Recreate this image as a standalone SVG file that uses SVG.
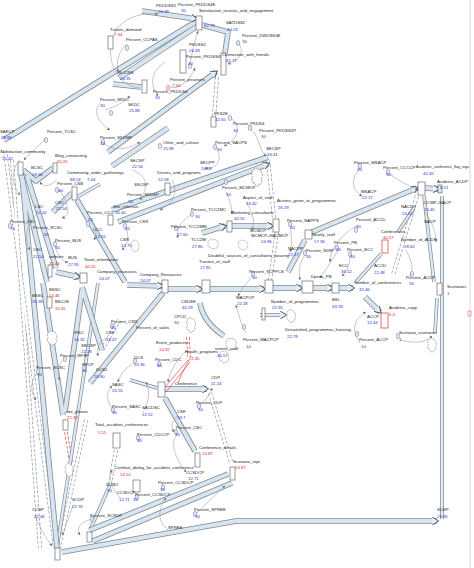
<svg xmlns="http://www.w3.org/2000/svg" xmlns:xlink="http://www.w3.org/1999/xlink" width="474" height="568" viewBox="0 0 474 568">
<style>
text{font-family:"Liberation Sans Narrow","Liberation Sans",Arial,sans-serif;font-size:4.3px}
.n{fill:#222}
.v{fill:#2430d0}
.r{fill:#e02020}
.po{fill:none;stroke:#7b8a98;stroke-width:5.6;stroke-linejoin:round}
.pi{fill:none;stroke:#d8e5ef;stroke-width:4}
.qo{fill:none;stroke:#7b8a98;stroke-width:3.6}
.qi{fill:none;stroke:#e2ebf3;stroke-width:2.2}
.do{fill:none;stroke:#8c98a4;stroke-width:4;stroke-dasharray:3 1.6}
.di{fill:none;stroke:#fff;stroke-width:2.6}
.rd{fill:none;stroke:#e04040;stroke-width:3.4;stroke-dasharray:3 1.6}
.ln{fill:none;stroke:#8a8f96;stroke-width:0.5;marker-end:url(#la)}
.red{fill:none;stroke:#e03030;stroke-width:0.6}
.st{fill:#fff;stroke:#555;stroke-width:0.6}
.sr{fill:#fff;stroke:#e03030;stroke-width:0.7}
.ax{fill:#dfe7f3;stroke:#6b7a96;stroke-width:0.5}
.cl{fill:#fff;stroke:#666;stroke-width:0.5;stroke-dasharray:1.2 0.6}
</style>
<defs>
<marker id="ah" viewBox="0 0 10 10" refX="6" refY="5" markerWidth="8" markerHeight="8" markerUnits="userSpaceOnUse" orient="auto"><path d="M0,0 L8,5 L0,10" fill="#e6eef5" stroke="#4a5560" stroke-width="1.2"/></marker>
<marker id="la" viewBox="0 0 10 10" refX="9" refY="5" markerWidth="3" markerHeight="3" markerUnits="userSpaceOnUse" orient="auto"><path d="M0,0 L10,5 L0,10 z" fill="#777"/></marker>
<path id="cloud" d="M-3,3 a1.8,1.8 0 0 1 -1,-3.2 a2,2 0 0 1 1,-3.6 a2.2,2.2 0 0 1 3.6,-0.4 a2.2,2.2 0 0 1 3,1.4 a2,2 0 0 1 0.4,3.6 a2,2 0 0 1 -2,3.2 a2.2,2.2 0 0 1 -3.6,0.2 a1.8,1.8 0 0 1 -1.4,-1.2 z"/>
<path id="p1" d="M4,140 L197,21"/><path id="p2" d="M119,78 L196,27"/><path id="p3" d="M142,11 L196,19"/>
<path id="p4" d="M202,25 L228,32 L225,53"/><path id="p5" d="M108,152 L216,72"/><path id="p6" d="M113,84 L141,87"/>
<path id="p7" d="M112,166 L168,128"/><path id="p8" d="M112,210 L268,157"/><path id="p9" d="M118,222 L268,164"/>
<path id="p10" d="M23,170 L36,181 L53,168"/><path id="p11" d="M53,212 L72,193"/><path id="p12" d="M77,197 L100,184"/>
<path id="p13" d="M77,200 L125,282"/><path id="p14" d="M21,175 L47,282"/><path id="p15" d="M27,176 L56,268"/>
<path id="p16" d="M56,272 L79,277"/><path id="p17" d="M127,285 L162,286"/><path id="p18" d="M168,289 L201,289"/>
<path id="p19" d="M210,289 L264,289"/><path id="p20" d="M273,288 L301,288"/><path id="p21" d="M313,288 L332,288"/>
<path id="p22" d="M339,288 L353,288"/><path id="p23" d="M202,233 L225,226"/><path id="p24" d="M232,226 L272,226"/>
<path id="p25" d="M288,272 L305,240"/><path id="p26" d="M312,232 L417,188"/><path id="p27" d="M425,188 L438,189"/>
<path id="p28" d="M424,196 L434,282"/><path id="p29" d="M62,552 L236,521 L437,521"/><path id="p30" d="M442,196 L442,519"/>
<path id="p31" d="M43,283 L63,415"/><path id="p32" d="M82,290 L65,412"/><path id="p33" d="M82,287 L102,350"/>
<path id="p34" d="M90,383 L163,293"/><path id="p35" d="M130,380 L157,388"/><path id="p36" d="M165,389 L207,389"/>
<path id="p37" d="M165,398 L195,451"/><path id="p38" d="M200,303 Q203,322 224,336"/><path id="p39" d="M90,530 L228,474"/>
<path id="p40" d="M93,541 L232,483"/><path id="p41" d="M110,485 L90,530"/><path id="p42" d="M22,176 L57,548"/>
<path id="p43" d="M365,297 L380,312"/><path id="p44" d="M437,298 L435,333"/><path id="p45" d="M260,315 L285,315"/>
<path id="p47" d="M356,282 L381,254"/><path id="p48" d="M398,232 L414,208"/><path id="p49" d="M98,283 L57,548"/>
<path id="d1" d="M5,150 L55,548"/><path id="d2" d="M217,77 L214,117"/><path id="d3" d="M268,160 L274,218"/>
<path id="d4" d="M277,232 L270,280"/><path id="d5" d="M86,420 L59,548"/><path id="d6" d="M210,393 L231,462"/>
<path id="d7" d="M116,450 L110,483"/><path id="d9" d="M102,350 L119,320"/><path id="d10" d="M417,196 L393,275"/>
<path id="d11" d="M12,160 L40,548"/>
</defs>
<rect width="474" height="568" fill="#fff"/>
<line x1="470" y1="0" x2="470" y2="568" stroke="#d4d8dc" stroke-width="1"/>
<g id="connectors">
<g class="do"><use href="#d1"/><use href="#d2"/><use href="#d3"/><use href="#d4"/><use href="#d5"/><use href="#d6"/><use href="#d7"/><use href="#d9"/><use href="#d10"/><use href="#d11"/></g>
<g class="di"><use href="#d1"/><use href="#d2"/><use href="#d3"/><use href="#d4"/><use href="#d5"/><use href="#d6"/><use href="#d7"/><use href="#d9"/><use href="#d10"/><use href="#d11"/></g>
<path class="rd" d="M66,432 L71,462"/><path d="M66,432 L71,462" fill="none" stroke="#fff" stroke-width="2"/>
<path class="rd" d="M188,337 L189,357"/><path d="M188,337 L189,357" fill="none" stroke="#fff" stroke-width="2"/>
<g class="qo"><use href="#p28"/><use href="#p30"/><use href="#p41"/><use href="#p44"/><use href="#p45"/><use href="#p47"/><use href="#p48"/><use href="#p49"/><use href="#p12"/><use href="#p35"/></g>
<g class="qi"><use href="#p28"/><use href="#p30"/><use href="#p41"/><use href="#p44"/><use href="#p45" style="marker-end:url(#ah)"/><use href="#p47"/><use href="#p48"/><use href="#p49"/><use href="#p12"/><use href="#p35"/></g>
<g class="po"><use href="#p1"/><use href="#p2"/><use href="#p3"/><use href="#p4"/><use href="#p5"/><use href="#p6"/><use href="#p7"/><use href="#p8"/><use href="#p9"/><use href="#p10"/><use href="#p11"/><use href="#p13"/><use href="#p14"/><use href="#p15"/><use href="#p16"/><use href="#p17"/><use href="#p18"/><use href="#p19"/><use href="#p20"/><use href="#p21"/><use href="#p22"/><use href="#p23"/><use href="#p24"/><use href="#p25"/><use href="#p26"/><use href="#p27"/><use href="#p29"/><use href="#p31"/><use href="#p32"/><use href="#p33"/><use href="#p34"/><use href="#p36"/><use href="#p37"/><use href="#p38"/><use href="#p39"/><use href="#p40"/><use href="#p42"/><use href="#p43"/></g>
<g class="pi"><use href="#p1"/><use href="#p2"/><use href="#p3" style="marker-end:url(#ah)"/><use href="#p4"/><use href="#p5" style="marker-end:url(#ah)"/><use href="#p6"/><use href="#p7"/><use href="#p8"/><use href="#p9" style="marker-end:url(#ah)"/><use href="#p10"/><use href="#p11"/><use href="#p13"/><use href="#p14"/><use href="#p15"/><use href="#p16" style="marker-end:url(#ah)"/><use href="#p17" style="marker-end:url(#ah)"/><use href="#p18" style="marker-end:url(#ah)"/><use href="#p19" style="marker-end:url(#ah)"/><use href="#p20" style="marker-end:url(#ah)"/><use href="#p21" style="marker-end:url(#ah)"/><use href="#p22" style="marker-end:url(#ah)"/><use href="#p23" style="marker-end:url(#ah)"/><use href="#p24" style="marker-end:url(#ah)"/><use href="#p25"/><use href="#p26" style="marker-end:url(#ah)"/><use href="#p27" style="marker-end:url(#ah)"/><use href="#p29" style="marker-end:url(#ah)"/><use href="#p31"/><use href="#p32"/><use href="#p33"/><use href="#p34"/><use href="#p36" style="marker-end:url(#ah)"/><use href="#p37"/><use href="#p38"/><use href="#p39"/><use href="#p40"/><use href="#p42"/><use href="#p43" style="marker-end:url(#ah)"/></g>
<g class="ln">
<path d="M140,88 C118,86 106,62 112,40 C116,22 135,12 158,14"/>
<path d="M127,44 C118,52 116,62 118,72"/>
<path d="M165,62 C150,72 150,86 158,96"/>
<path d="M190,64 Q194,42 198,31"/>
<path d="M237,42 C246,50 240,60 228,64"/>
<path d="M168,86 C178,92 190,80 195,68"/>
<path d="M231,118 C242,126 238,140 224,146"/>
<path d="M250,128 C262,140 258,150 266,156"/>
<path d="M100,103 C92,112 100,124 110,130"/>
<path d="M103,142 C112,152 128,150 140,142"/>
<path d="M46,138 C40,146 30,152 24,160"/>
<path d="M20,160 C10,170 12,185 20,195"/>
<path d="M57,180 C50,186 44,188 40,182"/>
<path d="M60,190 C68,205 72,215 62,218"/>
<path d="M36,215 C26,225 24,240 30,250"/>
<path d="M88,218 C96,226 98,232 94,240"/>
<path d="M55,246 C58,256 62,262 68,262"/>
<path d="M125,226 C130,236 128,244 122,250"/>
<path d="M132,170 C146,175 150,185 140,200"/>
<path d="M172,180 C180,195 170,205 160,210"/>
<path d="M215,146 C225,160 215,170 205,168"/>
<path d="M192,214 C180,222 176,230 178,238"/>
<path d="M226,192 C230,200 232,208 232,214"/>
<path d="M246,202 C252,212 256,220 252,230"/>
<path d="M290,225 C292,240 292,246 290,252"/>
<path d="M253,274 C248,282 242,288 238,296"/>
<path d="M360,168 C350,180 352,190 362,196"/>
<path d="M390,174 C400,182 410,186 418,190"/>
<path d="M358,225 C340,235 330,250 330,262"/>
<path d="M338,250 C332,260 326,270 320,278"/>
<path d="M350,256 C350,266 346,272 342,276"/>
<path d="M360,343 C350,330 355,318 366,312"/>
<path d="M305,255 C300,262 298,270 300,280"/>
<path d="M246,333 C240,322 238,312 236,305"/>
<path d="M187,350 C176,360 170,372 168,382"/>
<path d="M199,406 C206,400 210,394 212,388"/>
<path d="M178,415 C172,420 170,426 174,432"/>
<path d="M176,436 C170,444 176,460 186,472"/>
<path d="M195,515 C205,505 215,495 225,486"/>
<path d="M168,530 C155,520 160,505 166,498"/>
<path d="M143,412 C150,400 150,390 146,382"/>
<path d="M113,410 C106,400 106,392 112,386"/>
<path d="M135,362 C125,368 120,375 118,382"/>
<path d="M107,338 C100,340 96,348 98,356"/>
<path d="M65,358 C58,365 56,372 60,380"/>
<path d="M38,372 C30,380 30,392 36,400"/>
<path d="M120,498 C112,488 108,480 112,470"/>
<path d="M92,519 C80,522 76,528 80,535"/>
<path d="M35,515 C40,528 46,538 52,546"/>
<path d="M73,505 C70,515 66,525 62,535"/>
<path d="M400,340 C420,345 428,340 432,336"/>
<path d="M406,250 C412,262 414,270 410,276"/>
<path d="M425,212 C432,222 436,232 436,242"/>
<path d="M105,110 C120,105 126,100 130,96"/>
</g>
<g>
<path class="red" d="M165,387 L188,360"/><path class="red" d="M166,392 L190,362"/><path class="red" d="M178,384 C182,372 186,366 189,360"/>
</g>
</g>
<g id="clouds" class="cl">
<use href="#cloud" transform="translate(52,338) scale(1,1.5)"/>
<use href="#cloud" transform="translate(69,470) scale(0.8,1.4)"/>
<use href="#cloud" transform="translate(191,325) scale(0.9,1.5)"/>
<use href="#cloud" transform="translate(231,344) scale(1.1,1.2)"/>
<use href="#cloud" transform="translate(291,316) scale(0.9,1.3)"/>
<use href="#cloud" transform="translate(432,345) scale(0.9,1.4)"/>
<use href="#cloud" transform="translate(257,177) scale(1.1,1.8)"/>
<use href="#cloud" transform="translate(243,245) scale(1,1)"/>
<use href="#cloud" transform="translate(135,246) scale(0.8,1.2)"/>
<use href="#cloud" transform="translate(213,244) scale(1.1,1)"/>
<use href="#cloud" transform="translate(224,357) scale(1,1.2)"/>
</g>
<g id="aux" class="ax">
<ellipse cx="127" cy="48" rx="1.7" ry="2.7"/><ellipse cx="190" cy="66" rx="1.7" ry="2.7"/><ellipse cx="238" cy="43" rx="1.7" ry="2.7"/>
<ellipse cx="168" cy="88" rx="1.7" ry="2.7" style="fill:#f7dede;stroke:#d06060"/><ellipse cx="230" cy="118" rx="1.7" ry="2.7"/><ellipse cx="250" cy="128" rx="1.7" ry="2.7"/>
<ellipse cx="111" cy="113" rx="1.7" ry="2.7"/><ellipse cx="103" cy="142" rx="1.7" ry="2.7"/><ellipse cx="46" cy="140" rx="1.7" ry="2.7"/>
<ellipse cx="57" cy="190" rx="1.7" ry="2.7"/><ellipse cx="88" cy="224" rx="1.7" ry="2.7"/><ellipse cx="55" cy="244" rx="1.7" ry="2.7"/>
<ellipse cx="125" cy="226" rx="1.7" ry="2.7"/><ellipse cx="160" cy="146" rx="1.7" ry="2.7"/><ellipse cx="215" cy="147" rx="1.7" ry="2.7"/>
<ellipse cx="226" cy="182" rx="1.7" ry="2.7"/><ellipse cx="192" cy="214" rx="1.7" ry="2.7"/><ellipse cx="176" cy="228" rx="1.7" ry="2.7"/>
<ellipse cx="290" cy="224" rx="1.7" ry="2.7"/><ellipse cx="253" cy="274" rx="1.7" ry="2.7"/><ellipse cx="360" cy="166" rx="1.7" ry="2.7"/>
<ellipse cx="388" cy="172" rx="1.7" ry="2.7"/><ellipse cx="356" cy="230" rx="1.7" ry="2.7"/><ellipse cx="337" cy="248" rx="1.7" ry="2.7"/>
<ellipse cx="350" cy="254" rx="1.7" ry="2.7"/><ellipse cx="305" cy="253" rx="1.7" ry="2.7"/><ellipse cx="412" cy="274" rx="1.7" ry="2.7"/>
<ellipse cx="357" cy="334" rx="1.7" ry="2.7"/><ellipse cx="244" cy="327" rx="1.7" ry="2.7"/><ellipse cx="159" cy="364" rx="1.7" ry="2.7"/>
<ellipse cx="199" cy="406" rx="1.7" ry="2.7"/><ellipse cx="176" cy="432" rx="1.7" ry="2.7"/><ellipse cx="195" cy="514" rx="1.7" ry="2.7"/>
<ellipse cx="163" cy="487" rx="1.7" ry="2.7"/><ellipse cx="113" cy="410" rx="1.7" ry="2.7"/><ellipse cx="135" cy="361" rx="1.7" ry="2.7"/>
<ellipse cx="65" cy="359" rx="1.7" ry="2.7"/><ellipse cx="38" cy="372" rx="1.7" ry="2.7"/><ellipse cx="84" cy="368" rx="1.7" ry="2.7"/>
<ellipse cx="137" cy="497" rx="1.7" ry="2.7"/><ellipse cx="92" cy="519" rx="1.7" ry="2.7"/><ellipse cx="138" cy="438" rx="1.7" ry="2.7"/>
<ellipse cx="398" cy="336" rx="1.7" ry="2.7"/><ellipse cx="112" cy="326" rx="1.7" ry="2.7"/><ellipse cx="10" cy="226" rx="1.7" ry="2.7"/>
</g>
<g id="n_sat_tourists"><rect class="st" x="196" y="16" width="6" height="14"/><text class="n" x="199" y="12">Satisfaction_tourists_and_engagement</text><text class="v" x="204" y="27">62.79</text></g>
<g id="n_pkddss2"><text class="n" x="156" y="7">PKDDSS2</text><text class="v" x="158" y="13">26.49</text><text class="n" x="178" y="6">Percent_PKDDS4E</text><text class="v" x="181" y="12">30</text></g>
<g id="n_tickets"><rect class="st" x="108" y="36" width="5" height="13"/><text class="n" x="110" y="31">Tickets_demand</text><text class="r" x="114" y="36">7.34</text><text class="n" x="126" y="41">Percent_CCPAS</text></g>
<g id="n_satdss2"><text class="n" x="226" y="24">SATDSS2</text><text class="v" x="227" y="31">44.23</text><text class="n" x="242" y="37">Percent_DWDSS4E</text><text class="v" x="242" y="43">30</text></g>
<g id="n_pkdss2"><rect class="st" x="180" y="50" width="6" height="23"/><text class="n" x="189" y="46">PKDSS2</text><text class="v" x="189" y="52">26.49</text><text class="n" x="186" y="58">Percent_PKDSS4E</text><text class="v" x="188" y="65">30</text></g>
<g id="n_connection"><rect class="st" x="221" y="53" width="5" height="22"/><text class="n" x="222" y="56">Connection_with_friends</text><text class="v" x="226" y="62">41.77</text></g>
<g id="n_prisoners"><text class="n" x="170" y="81">Percent_prisoners</text><text class="r" x="172" y="87">7.34</text><text class="n" x="153" y="93">Percent_PKDDS4</text><text class="v" x="155" y="99">30</text></g>
<g id="n_blics"><rect class="st" x="142" y="80" width="5" height="13"/><text class="n" x="118" y="74">BLICNS</text><text class="v" x="120" y="80">24.35</text></g>
<g id="n_pks2e"><rect class="st" x="211" y="117" width="5" height="10"/><text class="n" x="214" y="115">PKS2E</text><text class="v" x="215" y="121">42.65</text><text class="n" x="233" y="125">Percent_PKDS4</text><text class="v" x="233" y="132">30</text><text class="n" x="259" y="132">Percent_PKDSS2P</text><text class="v" x="261" y="138">30</text></g>
<g id="n_skdc"><text class="n" x="100" y="101">Percent_SKDC</text><text class="v" x="100" y="107">30</text><text class="n" x="128" y="106">SKDC</text><text class="v" x="129" y="112">25.88</text><text class="n" x="100" y="139">Percent_SKDMF</text><text class="v" x="100" y="145">10</text></g>
<g id="n_saecp"><text class="n" x="0" y="133">SAECP</text><text class="v" x="1" y="139">28.86</text><text class="n" x="47" y="133">Percent_TCSC</text></g>
<g id="n_sat_comm"><rect class="st" x="18" y="162" width="5" height="13"/><text class="n" x="0" y="153">Satisfaction_community</text><text class="v" x="2" y="160">55.42</text></g>
<g id="n_bcsc"><text class="n" x="31" y="169">BCSC</text><text class="v" x="32" y="176">28.66</text></g>
<g id="n_blog"><rect class="st" x="53" y="163" width="4" height="10"/><text class="n" x="55" y="157">Blog_connecting</text><text class="r" x="57" y="163">65.25</text></g>
<g id="n_comm_wider"><rect class="st" x="72" y="187" width="5" height="13"/><text class="n" x="67" y="174">Community_wider_gatherings</text><text class="v" x="70" y="181">88.54</text><text class="v" x="87" y="181">7.44</text><text class="n" x="57" y="185">Percent_CSB</text><text class="v" x="58" y="192">40</text></g>
<g id="n_csc"><text class="n" x="55" y="204">CSC</text><text class="v" x="56" y="210">22.54</text><text class="n" x="35" y="208">LSC</text><text class="v" x="36" y="214">21.42</text></g>
<g id="n_lsc"><text class="n" x="10" y="223">Percent_LSC</text><text class="v" x="10" y="230">70</text><text class="n" x="33" y="229">Percent_RCSC</text><text class="v" x="44" y="236">80</text></g>
<g id="n_ccc"><text class="n" x="87" y="214">Percent_CCC</text><text class="v" x="88" y="221">20</text><text class="n" x="93" y="231">CCC</text><text class="v" x="95" y="238">13.55</text></g>
<g id="n_bus"><text class="n" x="55" y="242">Percent_BUS</text><text class="v" x="55" y="249">30</text><text class="n" x="68" y="259">BUS</text><text class="v" x="68" y="266">27.95</text><text class="n" x="33" y="251">CSC</text><text class="v" x="33" y="258">22.54</text></g>
<g id="n_website"><rect class="st" x="48" y="265" width="4" height="12"/><text class="n" x="49" y="258">website</text><text class="r" x="49" y="265">75.44</text></g>
<g id="n_team"><rect class="st" x="80" y="273" width="7" height="10"/><text class="n" x="84" y="261">Team_information</text><text class="r" x="85" y="268">40.55</text></g>
<g id="n_company"><text class="n" x="97" y="273">Company_resources</text><text class="v" x="99" y="280">24.07</text><text class="n" x="140" y="276">Company_Resources</text><text class="v" x="140" y="282">24.07</text></g>
<g id="n_secsp"><text class="n" x="130" y="162">SECSP</text><text class="v" x="132" y="168">22.56</text><text class="n" x="134" y="186">SSCSP</text><text class="n" x="127" y="196">Percent_SKDSP</text><text class="v" x="128" y="203">30</text></g>
<g id="n_site_ref"><rect class="st" x="108" y="215" width="5" height="10"/><text class="n" x="113" y="208">Site_referrals</text><text class="v" x="115" y="214">30.40</text><text class="n" x="122" y="223">Percent_CSR</text><text class="v" x="125" y="230">40</text><text class="n" x="120" y="241">CSR</text><text class="v" x="121" y="247">14.75</text></g>
<g id="n_other"><text class="n" x="163" y="144">Other_and_culture</text><text class="v" x="163" y="150">25.98</text><text class="n" x="215" y="144">Percent_SACPS</text><text class="v" x="217" y="151">30</text></g>
<g id="n_drivers"><rect class="st" x="165" y="183" width="5" height="12"/><text class="n" x="157" y="174">Drivers_and_programs</text><text class="v" x="158" y="181">22.58</text><text class="n" x="200" y="164">SECPP</text><text class="v" x="201" y="170">24.09</text></g>
<g id="n_secsp2"><text class="n" x="266" y="150">SECSP</text><text class="v" x="267" y="156">26.41</text></g>
<g id="n_mcmcp"><text class="n" x="222" y="189">Percent_MCMCP</text><text class="v" x="226" y="196">30</text><text class="n" x="243" y="199">Aspect_of_staff</text><text class="v" x="246" y="205">16.42</text></g>
<g id="n_actions"><rect class="st" x="273" y="219" width="6" height="13"/><text class="n" x="277" y="202">Actions_given_to_programmes</text><text class="v" x="278" y="209">26.29</text></g>
<g id="n_marketing"><rect class="st" x="227" y="221" width="5" height="11"/><text class="n" x="231" y="214">Marketing_consultants</text><text class="v" x="234" y="220">42.55</text></g>
<g id="n_tcc2m"><text class="n" x="191" y="211">Percent_TCC2MC</text><text class="v" x="195" y="218">30</text><text class="n" x="171" y="228">Percent_TCC2MM</text><text class="v" x="177" y="236">27.60</text><text class="n" x="191" y="241">TCC2M</text><text class="v" x="192" y="248">27.80</text></g>
<g id="n_mcmcp2"><text class="n" x="250" y="232">MCMCP</text><text class="n" x="251" y="237">MCMCP+NACMCP</text><text class="v" x="261" y="243">24.96</text></g>
<g id="n_doubtful"><text class="n" x="208" y="257">Doubtful_sources_of_consultants_housing</text><text class="n" x="199" y="263">Turnout_of_staff</text><text class="v" x="200" y="269">27.85</text></g>
<g id="n_nacpp"><rect class="st" x="305" y="230" width="7" height="9"/><text class="n" x="287" y="222">Percent_NAPPS</text><text class="v" x="290" y="229">30</text><text class="n" x="288" y="250">NACPP</text><text class="v" x="288" y="256">22.17</text><text class="n" x="249" y="273">Percent_SCPPCS</text><text class="v" x="252" y="279">30</text></g>
<g id="n_chain"><rect class="st" x="162" y="280" width="6" height="13"/><rect class="st" x="202" y="280" width="8" height="13"/><rect class="st" x="265" y="280" width="8" height="13"/><rect class="st" x="302" y="281" width="11" height="12"/><rect class="st" x="332" y="283" width="7" height="10"/></g>
<g id="n_msacp"><text class="n" x="354" y="164">Percent_MSACP</text><text class="v" x="357" y="171">30</text><text class="n" x="361" y="193">MSACP</text><text class="v" x="362" y="199">22.17</text><text class="n" x="383" y="169">Percent_CCCCP</text><text class="v" x="386" y="176">30</text></g>
<g id="n_academic"><rect class="st" x="418" y="182" width="7" height="13"/><text class="n" x="416" y="168" style="font-size:4px" textLength="53" lengthAdjust="spacingAndGlyphs">Academic_conference_flag_regu</text><text class="v" x="423" y="175">42.45</text></g>
<g id="n_acdp"><rect class="st" x="438" y="185" width="4" height="8" style="fill:#dfe7f3"/><text class="n" x="437" y="183">Acidents_ACDP</text><text class="v" x="440" y="189">6.51</text><text class="n" x="424" y="204">CCMP+NACP</text><text class="v" x="424" y="211">20.45</text><text class="n" x="424" y="223">NACP</text></g>
<g id="n_conferences"><rect class="sr" x="382" y="240" width="6" height="13"/><text class="n" x="356" y="221">Percent_ACCD</text><text class="v" x="356" y="228">30</text><text class="n" x="381" y="233">Conferences</text><text class="r" x="383" y="239">40.57</text></g>
<g id="n_nacdp"><text class="n" x="401" y="208">NACDP</text><text class="v" x="402" y="215">24.62</text><text class="n" x="401" y="241">Number_of_ACDP</text><text class="v" x="404" y="248">28.62</text><text class="n" x="406" y="279">Percent_ACDP</text><text class="v" x="409" y="285">30</text></g>
<g id="n_nearly"><text class="n" x="312" y="236">Nearly_staff</text><text class="v" x="314" y="243">17.36</text><text class="n" x="306" y="252">Percent_N09P</text><text class="v" x="306" y="258">30</text></g>
<g id="n_ecc"><text class="n" x="334" y="244">Percent_PB</text><text class="v" x="336" y="251">30</text><text class="n" x="347" y="251">Percent_ECC</text><text class="v" x="350" y="258">30</text><text class="n" x="339" y="267">ECC</text><text class="v" x="341" y="273">36.12</text><text class="n" x="374" y="267">ACCD</text><text class="v" x="374" y="274">22.48</text><text class="n" x="311" y="278">Dpens_PB</text></g>
<g id="n_numconf"><text class="n" x="354" y="284">Number_of_conferences</text><text class="v" x="359" y="291">32.46</text><text class="n" x="332" y="301">BSL</text><text class="v" x="332" y="308">43.33</text></g>
<g id="n_acc_copy"><rect class="sr" x="381" y="313" width="7" height="15"/><text class="n" x="389" y="309">Acidents_copy</text><text class="r" x="389" y="316">6.3</text><text class="n" x="367" y="318">ACCP</text><text class="v" x="367" y="324">12.44</text><text class="n" x="359" y="341">Percent_ACCP</text><text class="v" x="361" y="348">10</text></g>
<g id="n_scen"><rect class="st" x="437" y="283" width="5" height="12"/><text class="n" x="447" y="288">Scenarios</text><text class="v" x="447" y="295">1</text><text class="n" x="399" y="334">Scenario_scenarios</text><text class="v" x="399" y="341">1</text></g>
<g id="n_programmes"><rect class="st" x="262" y="308" width="3" height="12"/><text class="n" x="236" y="299">MACPCP</text><text class="v" x="237" y="305">22.28</text><text class="n" x="181" y="303">CSDSE</text><text class="v" x="182" y="309">40.29</text><text class="n" x="271" y="303">Number_of_programmes</text><text class="v" x="272" y="309">22.35</text></g>
<g id="n_dissat"><text class="n" x="285" y="331">Dissatisfied_programmes_housing</text><text class="v" x="287" y="338">22.79</text><text class="n" x="243" y="341">Percent_MACPCP</text><text class="v" x="246" y="348">10</text></g>
<g id="n_events"><text class="n" x="174" y="318">CPCD</text><text class="v" x="174" y="324">30</text><text class="n" x="215" y="350">events_staff</text><text class="v" x="217" y="357">40.57</text><text class="n" x="185" y="353">Health_programs</text><text class="r" x="189" y="360">22.45</text><text class="n" x="156" y="344">Event_producers</text><text class="r" x="159" y="351">14.92</text><text class="n" x="155" y="361">Percent_CDC</text><text class="v" x="157" y="367">30</text></g>
<g id="n_conference"><rect class="st" x="158" y="382" width="7" height="15"/><text class="n" x="175" y="385">Conference</text><text class="n" x="211" y="379">CDP</text><text class="v" x="211" y="385">11.24</text><text class="n" x="196" y="404">Percent_CDP</text><text class="v" x="198" y="411">30</text></g>
<g id="n_csf"><text class="n" x="177" y="413">CSF</text><text class="v" x="177" y="419">19.7</text><text class="n" x="176" y="429">Percent_CSC</text><text class="v" x="175" y="436">30</text></g>
<g id="n_conf_details"><rect class="st" x="195" y="453" width="5" height="14"/><text class="n" x="199" y="449">Conference_details</text><text class="r" x="202" y="455">13.87</text></g>
<g id="n_scen_repr"><rect class="st" x="230" y="467" width="5" height="13"/><text class="n" x="233" y="463">Scenario_repr</text><text class="r" x="235" y="469">13.87</text></g>
<g id="n_spree"><text class="n" x="194" y="511">Percent_SPREE</text><text class="v" x="195" y="518">30</text><text class="n" x="168" y="529">SPREE</text></g>
<g id="n_bssc"><rect class="st" x="47" y="297" width="5" height="11"/><text class="n" x="49" y="291">BSSC</text><text class="r" x="49" y="297">13.46</text><text class="n" x="55" y="303">BSCJS</text><text class="r" x="55" y="310">32.65</text><text class="n" x="32" y="297">BSSC</text><text class="v" x="32" y="303">26.38</text></g>
<g id="n_ifsc"><text class="n" x="74" y="334">IFSC</text><text class="v" x="74" y="341">16.32</text><text class="n" x="81" y="347">SRCSP</text><text class="v" x="81" y="353">22.28</text><text class="n" x="60" y="357">Percent_RFSP</text><text class="n" x="82" y="366">RFCP</text><text class="v" x="82" y="372">30</text><text class="n" x="36" y="369">Percent_SCSC</text><text class="v" x="37" y="376">30</text></g>
<g id="n_csf2"><text class="n" x="111" y="323">Percent_CSR</text><text class="v" x="111" y="329">30</text><text class="n" x="106" y="334">CSF</text><text class="v" x="106" y="341">18.47</text><text class="n" x="136" y="329">Percent_of_sales</text><text class="n" x="134" y="359">DCS</text><text class="v" x="134" y="366">24.36</text><text class="n" x="96" y="371">DCS2</text><text class="v" x="94" y="378">26.80</text></g>
<g id="n_sasc"><text class="n" x="112" y="386">SASC</text><text class="v" x="112" y="392">26.55</text><text class="n" x="112" y="408">Percent_SASC</text><text class="v" x="112" y="414">30</text><text class="n" x="142" y="409">SACDSC</text><text class="v" x="142" y="416">22.52</text></g>
<g id="n_site_photos"><rect class="st" x="63" y="420" width="5" height="10"/><text class="n" x="66" y="413">site_photos</text><text class="r" x="67" y="419">22.33</text></g>
<g id="n_total_acc"><rect class="st" x="113" y="433" width="7" height="15"/><text class="n" x="95" y="426">Total_accident_conferences</text><text class="r" x="98" y="434">5.55</text><text class="n" x="137" y="436">Percent_CDCCP</text><text class="v" x="137" y="442">30</text></g>
<g id="n_comfort"><rect class="st" x="133" y="480" width="7" height="12"/><text class="n" x="115" y="469">Comfort_dialog_for_accident_conference</text><text class="r" x="120" y="476">14.52</text><text class="n" x="106" y="486">SDNO</text><text class="v" x="107" y="492">30</text></g>
<g id="n_ccsdcp"><text class="n" x="117" y="494">CCSDCP</text><text class="n" x="135" y="496">Percent_CCSDCP</text><text class="v" x="119" y="501">12.71</text><text class="v" x="133" y="501">30</text><text class="n" x="186" y="474">CCSDCP</text><text class="v" x="188" y="480">12.71</text><text class="n" x="158" y="484">Percent_CCSDCP</text><text class="v" x="160" y="491">30</text></g>
<g id="n_scdp"><text class="n" x="72" y="501">SCDP</text><text class="v" x="72" y="508">22.76</text><text class="n" x="32" y="511">CCSP</text><text class="v" x="34" y="518">22.46</text><text class="n" x="90" y="517">Percent_SCRDP</text></g>
<g id="n_scrdp"><rect class="st" x="87" y="532" width="5" height="10"/></g>
<g id="n_bottom"><rect class="st" x="55" y="548" width="5" height="12"/></g>
<g id="n_scep"><text class="n" x="437" y="511">SCEP</text><text class="v" x="437" y="518">29.95</text></g>
<rect x="468" y="311" width="3" height="5" fill="none" stroke="#e05050" stroke-width="0.5"/>
</svg>
